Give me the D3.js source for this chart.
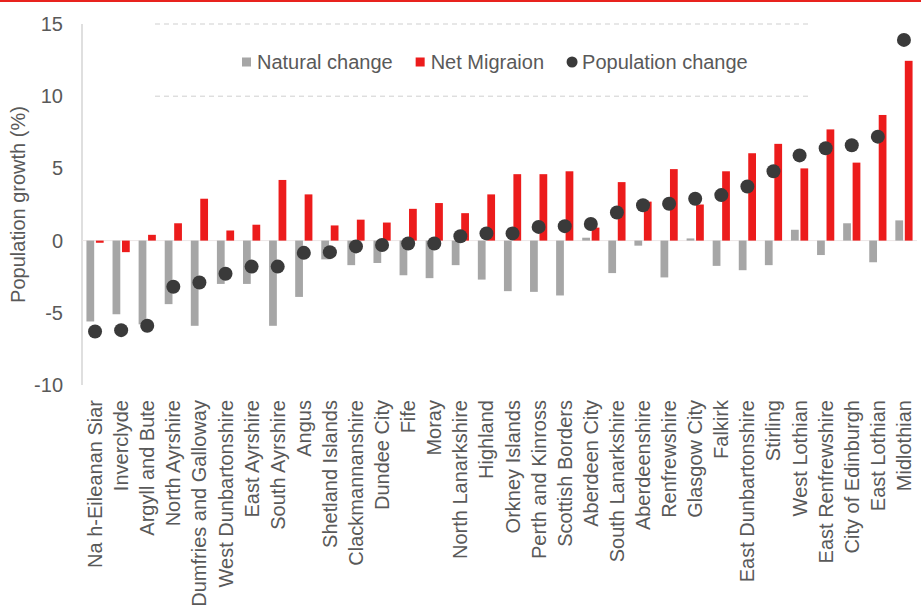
<!DOCTYPE html>
<html>
<head>
<meta charset="utf-8">
<script src="https://cdn.jsdelivr.net/npm/d3@7"></script>
<style>
  html, body { margin: 0; padding: 0; background: #ffffff; }
  svg { display: block; font-family: "Liberation Sans", Arial, sans-serif; }
</style>
</head>
<body>
<svg id="chart" width="921" height="610"></svg>
<script>
const categories = ["Na h-Eileanan Siar","Inverclyde","Argyll and Bute","North Ayrshire","Dumfries and Galloway","West Dunbartonshire","East Ayrshire","South Ayrshire","Angus","Shetland Islands","Clackmannanshire","Dundee City","Fife","Moray","North Lanarkshire","Highland","Orkney Islands","Perth and Kinross","Scottish Borders","Aberdeen City","South Lanarkshire","Aberdeenshire","Renfrewshire","Glasgow City","Falkirk","East Dunbartonshire","Stirling","West Lothian","East Renfrewshire","City of Edinburgh","East Lothian","Midlothian"];
const naturalChange = [-5.6,-5.1,-5.8,-4.4,-5.9,-3.0,-3.0,-5.9,-3.9,-1.3,-1.7,-1.55,-2.4,-2.6,-1.7,-2.7,-3.5,-3.55,-3.8,0.2,-2.25,-0.35,-2.55,0.15,-1.75,-2.05,-1.7,0.75,-1.0,1.2,-1.5,1.4];
const netMigration = [-0.15,-0.8,0.4,1.2,2.9,0.7,1.1,4.2,3.2,1.05,1.45,1.25,2.2,2.6,1.9,3.2,4.6,4.6,4.8,0.9,4.05,2.7,4.95,2.5,4.8,6.05,6.7,5.0,7.7,5.4,8.7,12.45];
const populationChange = [-6.3,-6.2,-5.9,-3.2,-2.9,-2.3,-1.8,-1.8,-0.85,-0.8,-0.4,-0.3,-0.2,-0.2,0.3,0.5,0.5,0.95,1.0,1.15,1.95,2.45,2.55,2.9,3.15,3.75,4.8,5.9,6.4,6.6,7.2,13.9];
const yTicks = [-10,-5,0,5,10,15];
const gridTicks = [10,15];
const seriesNames = ["Natural change","Net Migraion","Population change"];
const yTitle = "Population growth (%)";

const colors = { natural: "#a6a6a6", migration: "#ec1c1c", pop: "#3a3a3a", text: "#595959", axis: "#d4d4d4", grid: "#cfcfcf" };

const svg = d3.select("#chart");
const W = 921, H = 610;
const plot = { left: 82, right: 917, top: 24, bottom: 385 };

// top red rule
svg.append("rect").attr("x", 0).attr("y", 0).attr("width", W).attr("height", 2).attr("fill", "#e8231e");

const y = d3.scaleLinear().domain([-10, 15]).range([plot.bottom, plot.top]);
const x = d3.scaleBand().domain(categories).range([plot.left, plot.right]).padding(0);
const xSub = d3.scaleBand().domain(["natural", "migration"])
  .range([x.bandwidth() * 0.17, x.bandwidth() * 0.83]).paddingInner(0.18);

// gridlines (dashed)
svg.append("g").selectAll("line").data(gridTicks).join("line")
  .attr("x1", 155).attr("x2", 810)
  .attr("y1", d => y(d)).attr("y2", d => y(d))
  .attr("stroke", colors.grid).attr("stroke-width", 1).attr("stroke-dasharray", "5,4");

// y axis line
svg.append("line").attr("x1", plot.left).attr("x2", plot.left)
  .attr("y1", plot.top).attr("y2", plot.bottom)
  .attr("stroke", colors.axis).attr("stroke-width", 1.5);

// zero line
svg.append("line").attr("x1", plot.left).attr("x2", plot.right)
  .attr("y1", y(0)).attr("y2", y(0))
  .attr("stroke", "#ece6e6").attr("stroke-width", 1);

// y axis tick labels (hyphen-minus, as in the source)
const yAxis = d3.axisLeft(y).tickValues(yTicks).tickSize(0).tickPadding(0).tickFormat(d => String(d));
const gy = svg.append("g").attr("transform", `translate(${plot.left - 19},0)`).call(yAxis);
gy.select(".domain").remove();
gy.selectAll("text").attr("font-size", 20).attr("fill", colors.text)
  .attr("font-family", "Liberation Sans, Arial, sans-serif");

// y title
svg.append("text")
  .attr("transform", `translate(25,${(plot.top + plot.bottom) / 2}) rotate(-90)`)
  .attr("text-anchor", "middle")
  .attr("font-size", 20).attr("fill", colors.text)
  .text(yTitle);

const data = categories.map((c, i) => ({ c, nat: naturalChange[i], mig: netMigration[i], pop: populationChange[i] }));

// bars
const g = svg.append("g");
g.selectAll("rect.nat").data(data).join("rect").attr("class", "nat")
  .attr("x", d => x(d.c) + xSub("natural"))
  .attr("width", xSub.bandwidth())
  .attr("y", d => y(Math.max(0, d.nat)))
  .attr("height", d => Math.abs(y(d.nat) - y(0)))
  .attr("fill", colors.natural);
g.selectAll("rect.mig").data(data).join("rect").attr("class", "mig")
  .attr("x", d => x(d.c) + xSub("migration"))
  .attr("width", xSub.bandwidth())
  .attr("y", d => y(Math.max(0, d.mig)))
  .attr("height", d => Math.abs(y(d.mig) - y(0)))
  .attr("fill", colors.migration);

// dots
g.selectAll("circle").data(data).join("circle")
  .attr("cx", d => x(d.c) + x.bandwidth() / 2)
  .attr("cy", d => y(d.pop))
  .attr("r", 7)
  .attr("fill", colors.pop);

// x labels
const gx = svg.append("g");
gx.selectAll("text").data(categories).join("text")
  .attr("transform", d => `translate(${x(d) + x.bandwidth() / 2},400) rotate(-90)`)
  .attr("text-anchor", "end")
  .attr("dy", "0.35em")
  .attr("font-size", 20).attr("fill", colors.text)
  .text(d => d);

// legend
const legend = svg.append("g").attr("transform", "translate(242,62)");
let lx = 0;
seriesNames.forEach((name, i) => {
  const item = legend.append("g").attr("transform", `translate(${lx},0)`);
  if (i < 2) {
    item.append("rect").attr("x", 0).attr("y", -4.5).attr("width", 9).attr("height", 9)
      .attr("fill", i === 0 ? colors.natural : colors.migration);
  } else {
    item.append("circle").attr("cx", 5).attr("cy", 0).attr("r", 5.5).attr("fill", colors.pop);
  }
  const t = item.append("text").attr("x", 15).attr("y", 0).attr("dy", "0.35em")
    .attr("font-size", 20).attr("fill", colors.text).text(name);
  lx += 15 + t.node().getComputedTextLength() + 23;
});
</script>
</body>
</html>
